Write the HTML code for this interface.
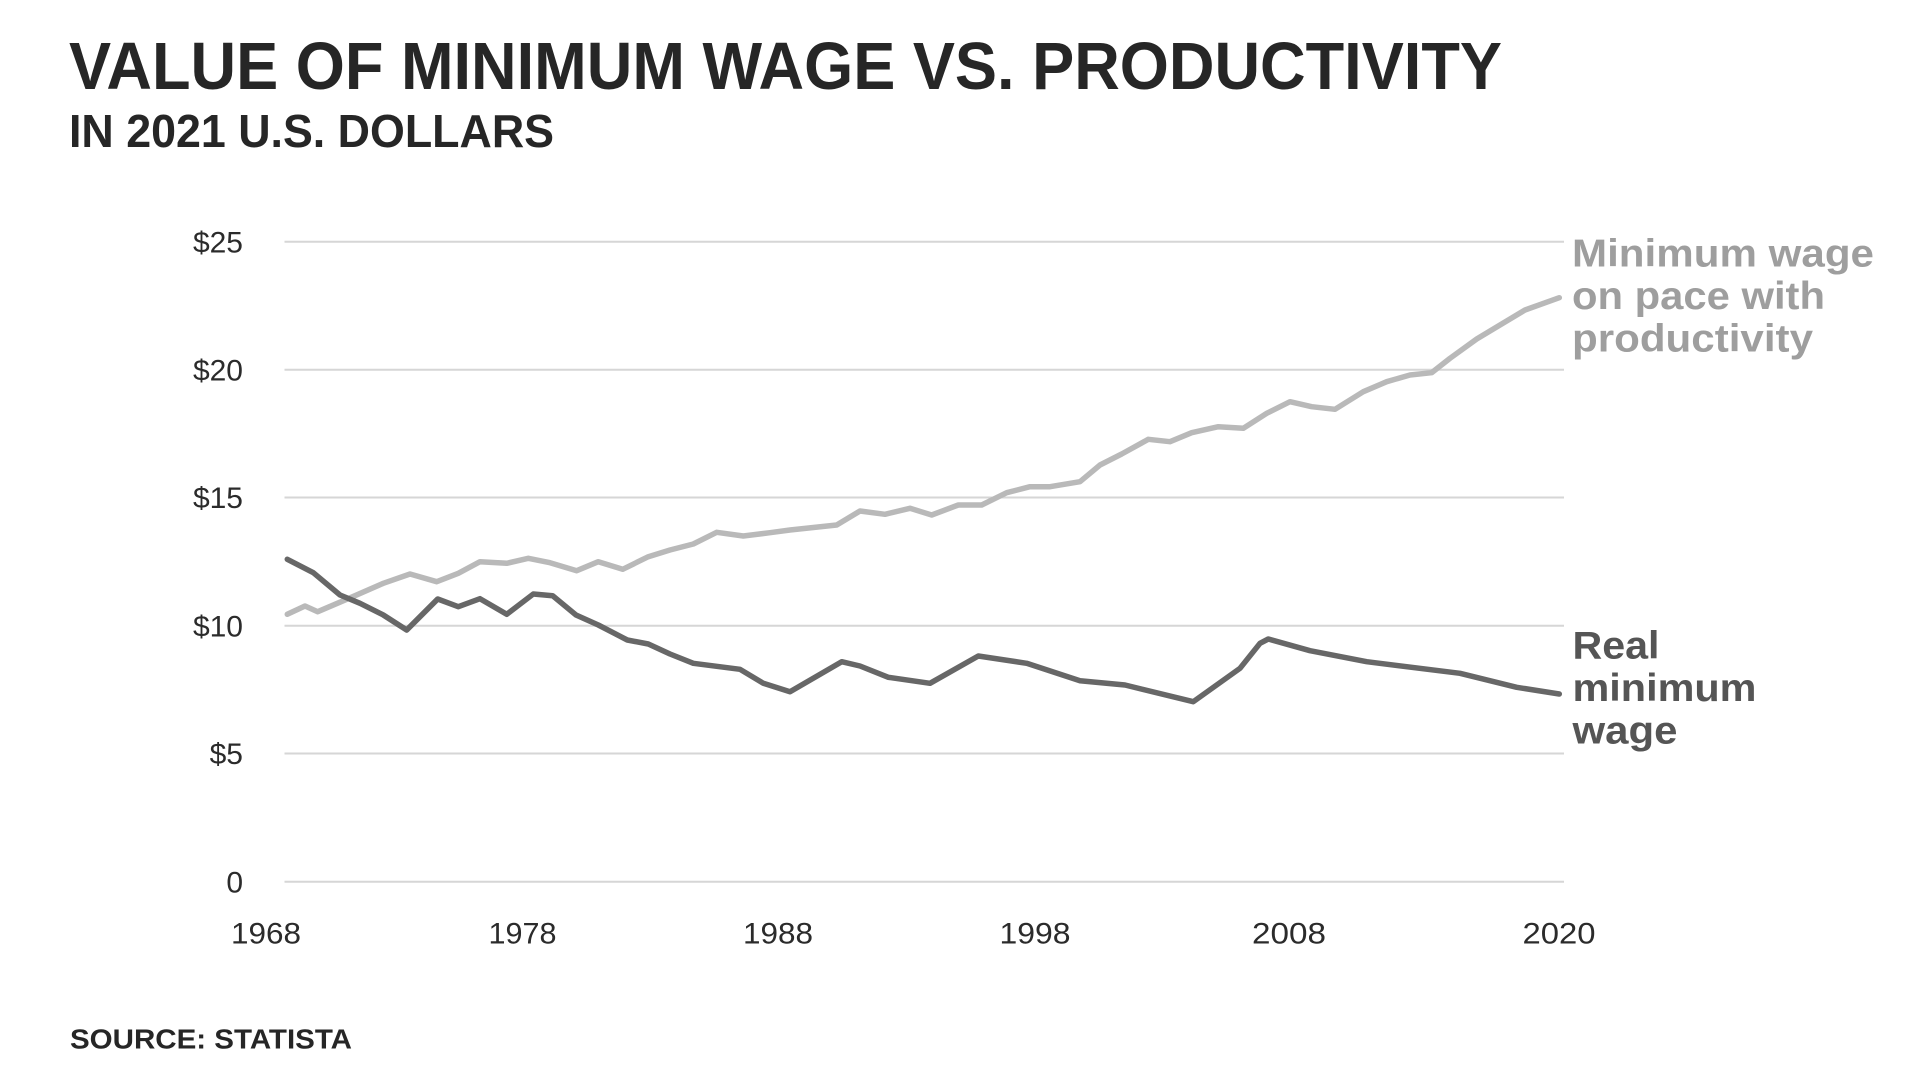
<!DOCTYPE html>
<html>
<head>
<meta charset="utf-8">
<style>
  html, body { margin: 0; padding: 0; background: #ffffff; }
  body { width: 1920px; height: 1080px; overflow: hidden; }
  svg { display: block; }
  .hand { font-family: "Liberation Sans", "DejaVu Sans", sans-serif; font-weight: bold; fill: #262626; }
  .tick { font-family: "Liberation Sans", "DejaVu Sans", sans-serif; font-size: 30px; fill: #2b2b2b; }
  .lab { font-family: "Liberation Sans", "DejaVu Sans", sans-serif; font-weight: bold; font-size: 39px; }
</style>
</head>
<body>
<svg width="1920" height="1080" viewBox="0 0 1920 1080" xmlns="http://www.w3.org/2000/svg">
  <rect x="0" y="0" width="1920" height="1080" fill="#ffffff"/>

  <!-- Title -->
  <text class="hand" x="69" y="89" font-size="67" textLength="1433" lengthAdjust="spacingAndGlyphs">VALUE OF MINIMUM WAGE VS. PRODUCTIVITY</text>
  <text class="hand" x="69" y="147" font-size="46" textLength="485" lengthAdjust="spacingAndGlyphs">IN 2021 U.S. DOLLARS</text>

  <!-- Gridlines -->
  <g stroke="#d6d6d6" stroke-width="2">
    <line x1="284.5" y1="241.7" x2="1564" y2="241.7"/>
    <line x1="284.5" y1="369.7" x2="1564" y2="369.7"/>
    <line x1="284.5" y1="497.5" x2="1564" y2="497.5"/>
    <line x1="284.5" y1="625.7" x2="1564" y2="625.7"/>
    <line x1="284.5" y1="753.5" x2="1564" y2="753.5"/>
    <line x1="284.5" y1="881.7" x2="1564" y2="881.7"/>
  </g>

  <!-- Y tick labels -->
  <g class="tick" text-anchor="end">
    <text x="243" y="252.3">$25</text>
    <text x="243" y="380.3">$20</text>
    <text x="243" y="508.1">$15</text>
    <text x="243" y="636.3">$10</text>
    <text x="243" y="764.1">$5</text>
    <text x="243" y="892.3">0</text>
  </g>

  <!-- X tick labels -->
  <g class="tick" text-anchor="middle">
    <text x="266" y="943.3" textLength="70" lengthAdjust="spacingAndGlyphs">1968</text>
    <text x="522.5" y="943.3" textLength="68" lengthAdjust="spacingAndGlyphs">1978</text>
    <text x="778" y="943.3" textLength="70" lengthAdjust="spacingAndGlyphs">1988</text>
    <text x="1035" y="943.3" textLength="71" lengthAdjust="spacingAndGlyphs">1998</text>
    <text x="1289" y="943.3" textLength="74" lengthAdjust="spacingAndGlyphs">2008</text>
    <text x="1559" y="943.3" textLength="73" lengthAdjust="spacingAndGlyphs">2020</text>
  </g>

  <!-- Productivity line (light) -->
  <polyline fill="none" stroke="#b9b9b9" stroke-width="5.5" stroke-linejoin="round" stroke-linecap="round"
    points="287.3,614.3 305,606 317.7,611.7 346.7,599.3 383.3,583.3 410,574 436.7,581.7 458.3,573.3 480,561.7 506.7,563.3 528.3,558.3 550,562.7 576.7,570.7 598.3,561.7 622.7,569.3 648.3,556.7 670,550 693.3,544 716.7,532.3 743.3,536 770,532.7 790,530 836.7,525 860,511 885,514.3 910,508.3 931.7,515 958.3,505 981.7,505 1006.7,492.7 1030,486.7 1050,486.7 1080,481.7 1100,465 1121.7,454 1148.3,439.3 1170,441.7 1191.7,432.7 1218.3,426.7 1243.3,428.3 1266.7,413.3 1290,401.7 1311.7,406.7 1335,409.3 1363.3,391.7 1386.7,381.7 1410,375 1431.7,372.7 1450,358.3 1476.7,339 1500,325 1525,310 1559.3,297.7"/>

  <!-- Real minimum wage line (dark) -->
  <polyline fill="none" stroke="#676767" stroke-width="5.5" stroke-linejoin="round" stroke-linecap="round"
    points="287.3,559.3 313.3,572.7 340,595 360,603.3 383.3,615 406.7,630 437.7,599 458.3,606.7 480,598.7 506.7,614.3 533.3,594 552.7,595.7 576,615 598.3,625 627.3,640 648.3,644 670,654 693.3,663.3 740,669.3 763.3,683.3 790,691.7 841.7,661.7 860,666 888.3,677.3 930,683.3 978.3,656 1026.7,663.3 1080,680.7 1125,685 1193.3,701.7 1240,668.3 1260,643.3 1268.3,639 1310,650.7 1366.7,661.7 1460,673.3 1516.7,687.3 1559.3,694"/>

  <!-- Series labels -->
  <g class="lab" fill="#9e9e9e">
    <text x="1572" y="266.7" textLength="302" lengthAdjust="spacingAndGlyphs">Minimum wage</text>
    <text x="1572" y="309.2" textLength="253" lengthAdjust="spacingAndGlyphs">on pace with</text>
    <text x="1572" y="351.7" textLength="241" lengthAdjust="spacingAndGlyphs">productivity</text>
  </g>
  <g class="lab" fill="#555555">
    <text x="1572.5" y="658.3" textLength="87" lengthAdjust="spacingAndGlyphs">Real</text>
    <text x="1572.5" y="701" textLength="184" lengthAdjust="spacingAndGlyphs">minimum</text>
    <text x="1572.5" y="743.5" textLength="105" lengthAdjust="spacingAndGlyphs">wage</text>
  </g>

  <!-- Source -->
  <text class="hand" x="70" y="1048.3" font-size="28" textLength="282" lengthAdjust="spacingAndGlyphs">SOURCE: STATISTA</text>
</svg>
</body>
</html>
